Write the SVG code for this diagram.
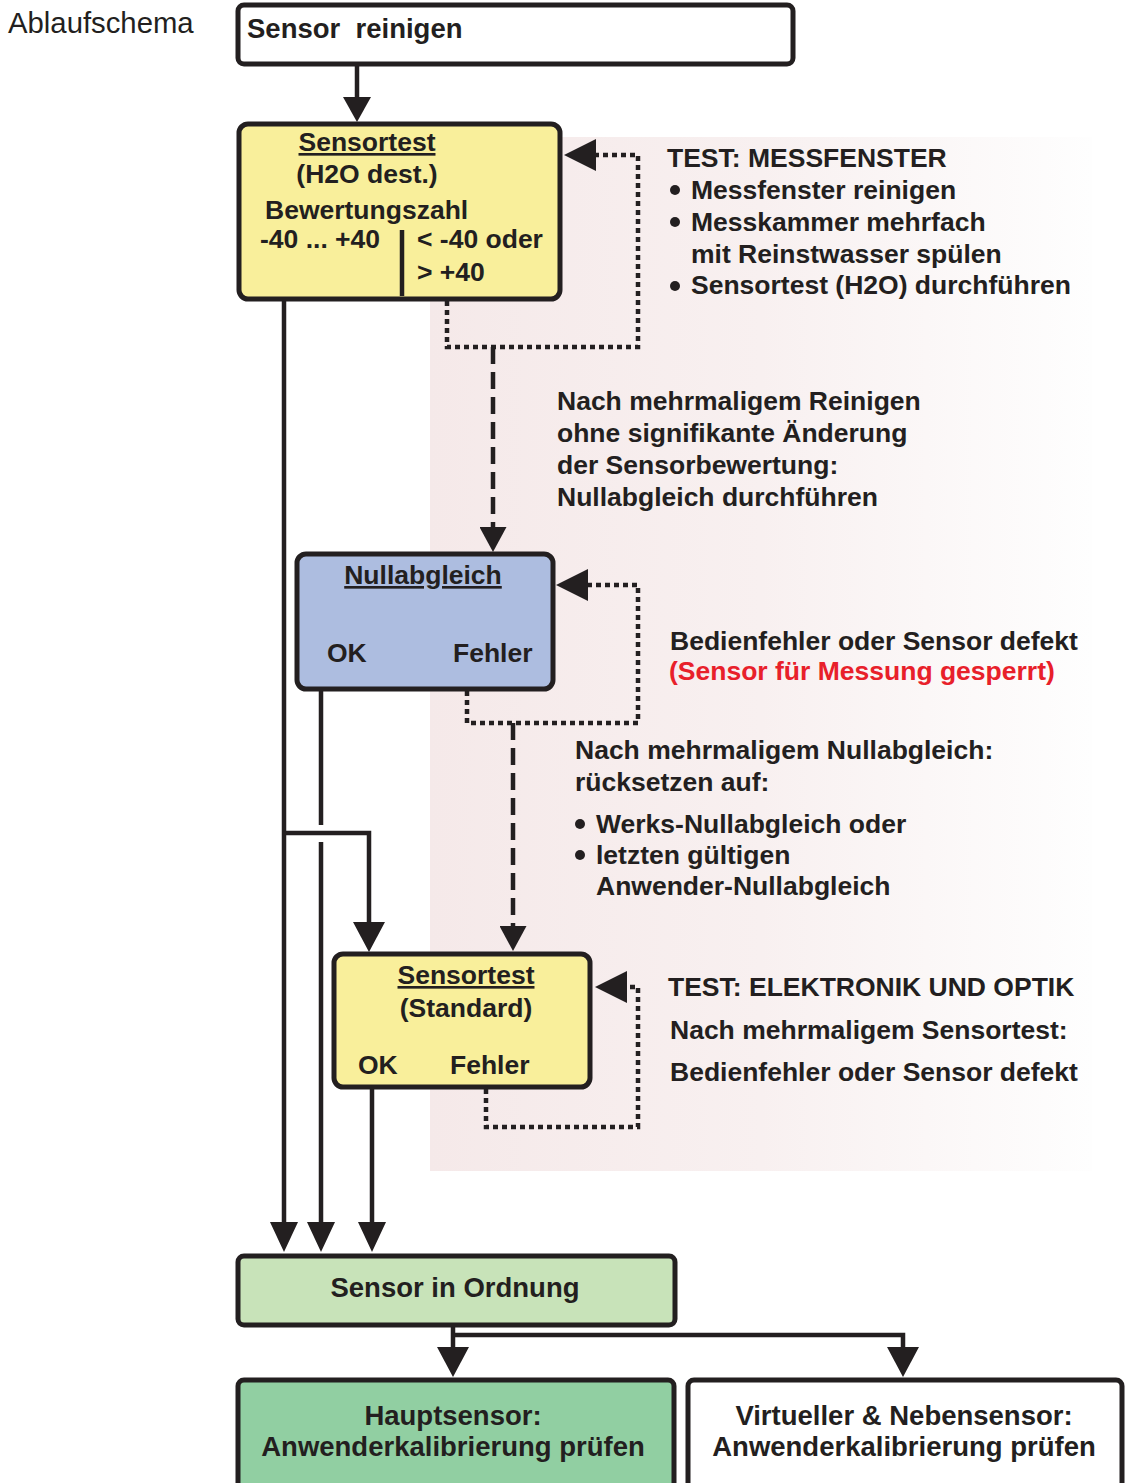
<svg xmlns="http://www.w3.org/2000/svg" width="1125" height="1483" viewBox="0 0 1125 1483">
<style>
text{font-family:"Liberation Sans",Arial,Helvetica,sans-serif;fill:#231f20;font-weight:bold;font-size:26.5px}
.big{font-size:27.5px}
.mid{text-anchor:middle}
.ul{text-decoration:underline}
.red{fill:#e8202a}
.box{stroke:#231f20;stroke-width:5}
.ln{fill:none;stroke:#231f20;stroke-width:4.5}
.dot{fill:none;stroke:#231f20;stroke-width:4.5;stroke-dasharray:5 4}
.dash{fill:none;stroke:#231f20;stroke-width:4.5;stroke-dasharray:17 8}
</style>
<defs>
<linearGradient id="bg" x1="0" y1="0" x2="1" y2="0">
<stop offset="0" stop-color="#f5e9e9"/>
<stop offset="0.5" stop-color="#f8f0f0"/>
<stop offset="1" stop-color="#fefefe"/>
</linearGradient>
<marker id="ahS" markerUnits="userSpaceOnUse" viewBox="0 0 25 28" markerWidth="25" markerHeight="28" refX="0" refY="14" orient="auto"><path d="M0,0 L25,14 L0,28 z" fill="#231f20"/></marker>
<marker id="ahM" markerUnits="userSpaceOnUse" viewBox="0 0 30 28" markerWidth="30" markerHeight="28" refX="0" refY="14" orient="auto"><path d="M0,0 L30,14 L0,28 z" fill="#231f20"/></marker>
<marker id="ahL" markerUnits="userSpaceOnUse" viewBox="0 0 30 32" markerWidth="30" markerHeight="32" refX="0" refY="16" orient="auto"><path d="M0,0 L30,16 L0,32 z" fill="#231f20"/></marker>
<marker id="ahD" markerUnits="userSpaceOnUse" viewBox="0 0 25 27" markerWidth="25" markerHeight="27" refX="0" refY="13.5" orient="auto"><path d="M0,0 L25,13.5 L0,27 z" fill="#231f20"/></marker>
<marker id="ahSide" markerUnits="userSpaceOnUse" viewBox="0 0 32 32" markerWidth="32" markerHeight="32" refX="0" refY="16" orient="auto"><path d="M0,0 L32,16 L0,32 z" fill="#231f20"/></marker>
</defs>
<rect x="0" y="0" width="1125" height="1483" fill="#ffffff"/>
<rect id="background" x="430" y="137" width="662" height="1034" fill="url(#bg)"/>
<text x="8" y="33" style="font-weight:normal;font-size:29.3px">Ablaufschema</text>

<g id="connectors">
<path class="ln" d="M357,65 V97" marker-end="url(#ahS)"/>
<path class="ln" d="M284,301 V1222" marker-end="url(#ahM)"/>
<path class="ln" d="M284,833 H369 V922" marker-end="url(#ahL)"/>
<path class="ln" d="M321,691 V825"/>
<path class="ln" d="M321,842 V1222" marker-end="url(#ahM)"/>
<path class="ln" d="M372,1089 V1222" marker-end="url(#ahM)"/>
<path class="ln" d="M453,1326 V1347" marker-end="url(#ahL)"/>
<path class="ln" d="M453,1335 H903 V1347" marker-end="url(#ahL)"/>
<path class="dash" d="M493,347 V527" marker-end="url(#ahD)"/>
<path class="dash" d="M513,723 V926" marker-end="url(#ahD)"/>
<path class="dot" d="M447,301 V347 H638 V155 H596" marker-end="url(#ahSide)"/>
<path class="dot" d="M467,691 V723 H638 V585 H588" marker-end="url(#ahSide)"/>
<path class="dot" d="M486,1089 V1127 H638 V987 H627" marker-end="url(#ahSide)"/>
</g>

<g id="sensor-reinigen">
<rect class="box" x="238" y="5" width="555" height="59" rx="6" fill="#ffffff"/>
<text class="big" x="247" y="38" xml:space="preserve">Sensor  reinigen</text>
</g>

<g id="sensortest-h2o">
<rect class="box" x="239" y="124" width="321" height="175" rx="9" fill="#f9ef9b"/>
<text class="mid ul" x="367" y="151">Sensortest</text>
<text class="mid" x="367" y="183">(H2O dest.)</text>
<text x="265" y="219">Bewertungszahl</text>
<text x="260" y="248">-40 ... +40</text>
<line x1="402" y1="230" x2="402" y2="296" stroke="#231f20" stroke-width="4.5"/>
<text x="417" y="248">&lt; -40 oder</text>
<text x="417" y="281">&gt; +40</text>
</g>

<g id="nullabgleich">
<rect class="box" x="297" y="554" width="256" height="135" rx="9" fill="#adbde0"/>
<text class="mid ul" x="423" y="584">Nullabgleich</text>
<text x="327" y="662">OK</text>
<text x="453" y="662">Fehler</text>
</g>

<g id="sensortest-standard">
<rect class="box" x="334" y="954" width="256" height="133" rx="9" fill="#f9ef9b"/>
<text class="mid ul" x="466" y="984">Sensortest</text>
<text class="mid" x="466" y="1017">(Standard)</text>
<text x="358" y="1074">OK</text>
<text x="450" y="1074">Fehler</text>
</g>

<g id="sensor-in-ordnung">
<rect class="box" x="238" y="1256" width="437" height="69" rx="6" fill="#c8e3b9"/>
<text class="big mid" x="455" y="1297">Sensor in Ordnung</text>
</g>

<g id="hauptsensor">
<rect class="box" x="238" y="1380" width="436" height="120" rx="6" fill="#91cfa2"/>
<text class="big mid" x="453" y="1425">Hauptsensor:</text>
<text class="big mid" x="453" y="1456">Anwenderkalibrierung prüfen</text>
</g>

<g id="virtueller-nebensensor">
<rect class="box" x="688" y="1380" width="434" height="120" rx="6" fill="#ffffff"/>
<text class="big mid" x="904" y="1425">Virtueller &amp; Nebensensor:</text>
<text class="big mid" x="904" y="1456">Anwenderkalibrierung prüfen</text>
</g>

<g id="note-messfenster">
<text x="667" y="167">TEST: MESSFENSTER</text>
<circle cx="675" cy="190" r="5" fill="#231f20"/>
<text x="691" y="199">Messfenster reinigen</text>
<circle cx="675" cy="222" r="5" fill="#231f20"/>
<text x="691" y="231">Messkammer mehrfach</text>
<text x="691" y="263">mit Reinstwasser spülen</text>
<circle cx="675" cy="286" r="5" fill="#231f20"/>
<text x="691" y="294">Sensortest (H2O) durchführen</text>
</g>

<g id="note-reinigen">
<text x="557" y="410">Nach mehrmaligem Reinigen</text>
<text x="557" y="442">ohne signifikante Änderung</text>
<text x="557" y="474">der Sensorbewertung:</text>
<text x="557" y="506">Nullabgleich durchführen</text>
</g>

<g id="note-defekt">
<text x="670" y="650">Bedienfehler oder Sensor defekt</text>
<text class="red" x="669" y="680">(Sensor für Messung gesperrt)</text>
</g>

<g id="note-nullabgleich">
<text x="575" y="759">Nach mehrmaligem Nullabgleich:</text>
<text x="575" y="791">rücksetzen auf:</text>
<circle cx="580" cy="824" r="5" fill="#231f20"/>
<text x="596" y="833">Werks-Nullabgleich oder</text>
<circle cx="580" cy="855" r="5" fill="#231f20"/>
<text x="596" y="864">letzten gültigen</text>
<text x="596" y="895">Anwender-Nullabgleich</text>
</g>

<g id="note-elektronik">
<text x="668" y="996">TEST: ELEKTRONIK UND OPTIK</text>
<text x="670" y="1039">Nach mehrmaligem Sensortest:</text>
<text x="670" y="1081">Bedienfehler oder Sensor defekt</text>
</g>
</svg>
